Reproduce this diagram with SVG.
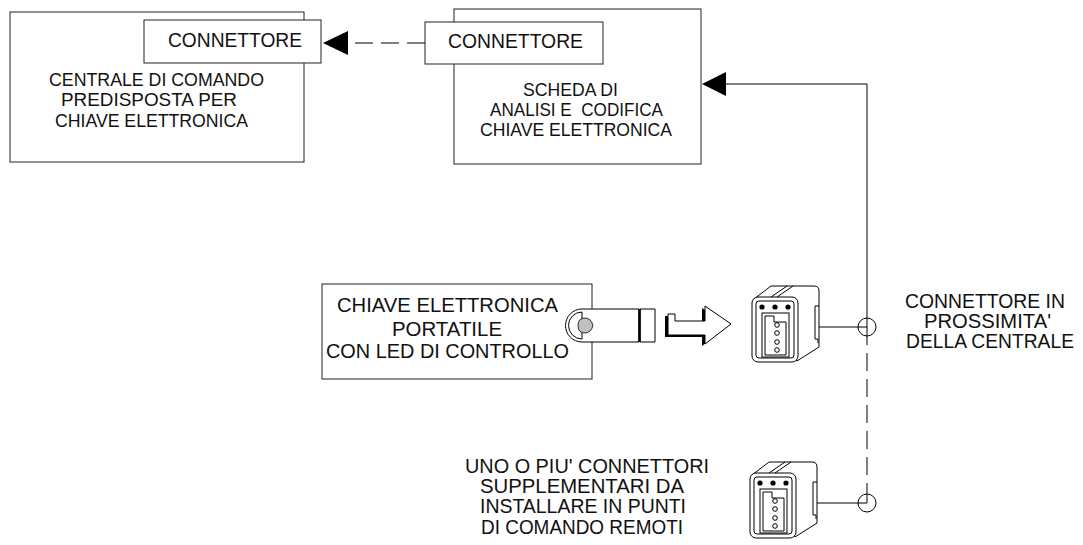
<svg xmlns="http://www.w3.org/2000/svg" xmlns:xlink="http://www.w3.org/1999/xlink" width="1083" height="545" viewBox="0 0 1083 545">
  <style>
    .box { fill: #fff; stroke: #222; stroke-width: 1; }
    .ln { fill: none; stroke: #000; stroke-width: 1; }
    .dash { fill: none; stroke: #000; stroke-width: 1; stroke-dasharray: 18 8; }
    .head { fill: #000; stroke: none; }
    .t { font-family: "Liberation Sans", Arial, sans-serif; font-size: 18.5px; fill: #111; }
    .tl { font-size: 19.5px; }
    .dev { fill: #fff; stroke: #000; stroke-width: 1; stroke-linejoin: round; }
    .devn { fill: none; stroke: #000; stroke-width: 1; }
  </style>
  <defs>
    <!-- wall connector drawn in perspective: top, side and front face with socket -->
    <g id="wall-connector">
      <path class="dev" d="M754,299 L771,286 H814 Q819,286 819,291 V347 L797,361 Z"/>
      <rect class="dev" x="752" y="297" width="46" height="65" rx="6"/>
      <rect class="devn" x="756" y="301" width="38" height="57" rx="3"/>
      <path class="devn" d="M771,297 L787,286 M777,297 L793,286"/>
      <path class="devn" d="M819,306 H815 V339 H818 V343"/>
      <circle cx="762" cy="307" r="2.6" fill="#000"/>
      <circle cx="775" cy="307" r="2.6" fill="#000"/>
      <circle cx="788" cy="307" r="2.6" fill="#000"/>
      <rect class="devn" x="762" y="313" width="27" height="44"/>
      <path class="devn" d="M765,355 V316 H774 V322 H786 V355 Z"/>
      <circle class="devn" cx="777" cy="325" r="2.3"/>
      <circle class="devn" cx="777" cy="333" r="2.3"/>
      <circle class="devn" cx="777" cy="342" r="2.3"/>
      <circle class="devn" cx="777" cy="350" r="2.3"/>
    </g>
  </defs>

  <rect width="1083" height="545" fill="#fff"/>

  <!-- control unit -->
  <g id="centrale">
    <rect class="box" x="10" y="12" width="294" height="150"/>
    <text class="t" x="49" y="85.5" textLength="215" lengthAdjust="spacingAndGlyphs">CENTRALE DI COMANDO</text>
    <text class="t" x="61" y="105.5" textLength="176" lengthAdjust="spacingAndGlyphs">PREDISPOSTA PER</text>
    <text class="t" x="55" y="126.5" textLength="193" lengthAdjust="spacingAndGlyphs">CHIAVE ELETTRONICA</text>
  </g>
  <g id="connettore-centrale">
    <rect class="box" x="144" y="20" width="177" height="43"/>
    <text class="t tl" x="168" y="46.7" textLength="134" lengthAdjust="spacingAndGlyphs">CONNETTORE</text>
  </g>

  <!-- analysis / coding board -->
  <g id="scheda">
    <rect class="box" x="454" y="9" width="247" height="155"/>
    <text class="t" x="523" y="96" textLength="95" lengthAdjust="spacingAndGlyphs">SCHEDA DI</text>
    <text class="t" x="490" y="116" textLength="173" lengthAdjust="spacingAndGlyphs" xml:space="preserve">ANALISI E  CODIFICA</text>
    <text class="t" x="480" y="136" textLength="192" lengthAdjust="spacingAndGlyphs">CHIAVE ELETTRONICA</text>
  </g>
  <g id="connettore-scheda">
    <rect class="box" x="425" y="22" width="178" height="42"/>
    <text class="t tl" x="448" y="47.5" textLength="135" lengthAdjust="spacingAndGlyphs">CONNETTORE</text>
  </g>

  <!-- portable key -->
  <g id="chiave">
    <rect class="box" x="322" y="284" width="270" height="95"/>
    <text class="t tl" x="337" y="311.5" textLength="221" lengthAdjust="spacingAndGlyphs">CHIAVE ELETTRONICA</text>
    <text class="t tl" x="392" y="335.5" textLength="110" lengthAdjust="spacingAndGlyphs">PORTATILE</text>
    <text class="t tl" x="326" y="358" textLength="243" lengthAdjust="spacingAndGlyphs">CON LED DI CONTROLLO</text>
    <path class="dev" d="M582,309 A16.5,16.5 0 0 0 582,342 H639 V309 Z"/>
    <path class="devn" d="M582,312 A13.5,13.5 0 0 0 582,339 V312"/>
    <path d="M578,325.5 Q578,318 585,318 Q591,318 593,325.5 Q591,333 585,333 Q578,333 578,325.5 Z" fill="#c0c0c0" stroke="#000" stroke-width="0.8"/>
    <rect class="dev" x="640" y="309" width="15" height="33"/>
    <line x1="639.5" y1="309" x2="639.5" y2="342" stroke="#000" stroke-width="2.5"/>
  </g>

  <!-- insertion arrow -->
  <g id="freccia-inserimento">
    <polygon points="665,316 672,316 672,323 702,323 702,308 728,326 702,346 702,337 665,337" fill="#000"/>
    <polygon class="dev" points="668,314 675,314 675,321 705,321 705,306 731,324 705,344 705,335 668,335"/>
  </g>

  <!-- wall connectors -->
  <g id="connettore-centrale-vicino">
    <use xlink:href="#wall-connector"/>
    <circle class="ln" cx="867" cy="327" r="9"/>
  </g>
  <g id="connettore-remoto">
    <use xlink:href="#wall-connector" transform="translate(-2,176)"/>
    <circle class="ln" cx="867" cy="503" r="9"/>
  </g>

  <!-- connectors -->
  <g id="collegamenti">
    <line class="dash" x1="425" y1="43" x2="348" y2="43"/>
    <polygon class="head" points="323,43 348,31 348,55"/>
    <polyline class="ln" points="867,327 867,84 726,84"/>
    <polygon class="head" points="702,84 726,72 726,96"/>
    <line class="ln" x1="819" y1="327" x2="867" y2="327"/>
    <line class="dash" x1="867" y1="327" x2="867" y2="494"/>
    <line class="ln" x1="867" y1="494" x2="867" y2="503"/>
    <line class="ln" x1="817" y1="503" x2="867" y2="503"/>
  </g>

  <!-- labels -->
  <g id="etichetta-vicino">
    <text class="t tl" x="905" y="308.3" textLength="160" lengthAdjust="spacingAndGlyphs">CONNETTORE IN</text>
    <text class="t tl" x="924" y="328.3" textLength="127" lengthAdjust="spacingAndGlyphs">PROSSIMITA'</text>
    <text class="t tl" x="906" y="348.3" textLength="168" lengthAdjust="spacingAndGlyphs">DELLA CENTRALE</text>
  </g>
  <g id="etichetta-remoti">
    <text class="t tl" x="465" y="473.3" textLength="244" lengthAdjust="spacingAndGlyphs">UNO O PIU' CONNETTORI</text>
    <text class="t tl" x="480" y="493.3" textLength="204" lengthAdjust="spacingAndGlyphs">SUPPLEMENTARI DA</text>
    <text class="t tl" x="480" y="513.3" textLength="206" lengthAdjust="spacingAndGlyphs">INSTALLARE IN PUNTI</text>
    <text class="t tl" x="481" y="534" textLength="202" lengthAdjust="spacingAndGlyphs">DI COMANDO REMOTI</text>
  </g>
</svg>
